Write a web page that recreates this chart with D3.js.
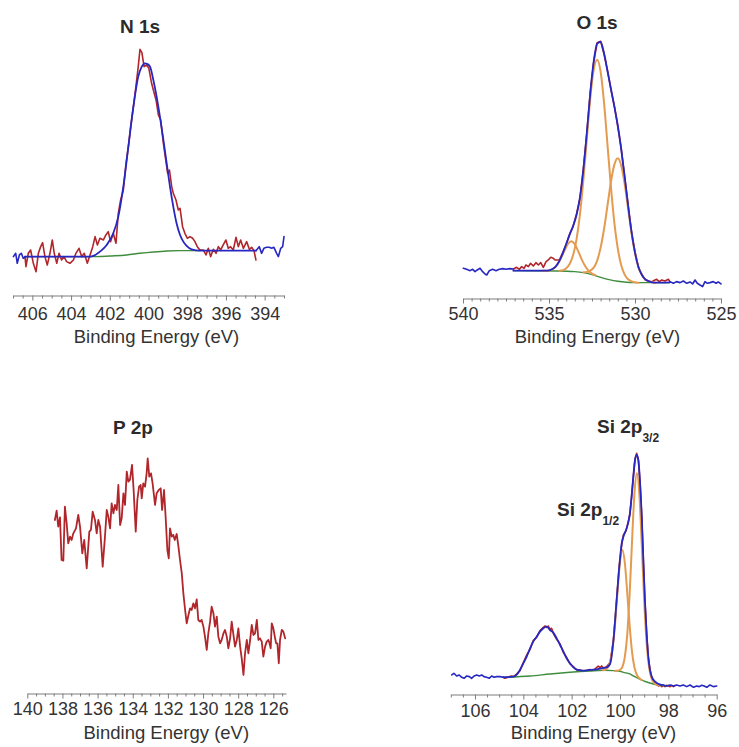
<!DOCTYPE html>
<html>
<head>
<meta charset="utf-8">
<script src="https://cdn.jsdelivr.net/npm/d3@7"></script>
<style>
  html, body { margin: 0; padding: 0; background: #fff; }
  svg { display: block; font-family: "Liberation Sans", Arial, Helvetica, sans-serif; }
</style>
</head>
<body>
<svg id="chart" width="739" height="747"></svg>
<script>
// ---------- XPS spectra: [binding energy (eV), intensity (a.u.)] ----------

// N 1s
const n1sEdgeLeft = [[406.98,80],[406.86,90],[406.78,60],[406.67,85],[406.57,90],[406.47,75],[406.38,78]];
const n1sRaw = [[406.38,80],[406.33,50],[406.21,90],[406.09,100],[405.95,60],[405.81,35],[405.69,90],[405.57,110],[405.47,122],[405.35,80],[405.23,55],[405.09,90],[404.97,130],[404.87,90],[404.74,60],[404.62,90],[404.49,70],[404.37,80],[404.23,65],[404.06,60],[403.88,70],[403.75,90],[403.59,105],[403.45,80],[403.32,90],[403.16,60],[403.02,85],[402.88,110],[402.76,140],[402.64,115],[402.51,135],[402.33,130],[402.20,145],[402.08,155],[401.96,125],[401.82,150],[401.68,120],[401.56,210],[401.44,250],[401.30,280],[401.16,360],[401.04,410],[400.92,470],[400.78,530],[400.65,590],[400.53,650],[400.44,702],[400.34,692],[400.23,650],[400.10,655],[399.98,645],[399.84,600],[399.75,580],[399.61,550],[399.49,505],[399.37,490],[399.23,420],[399.11,370],[399.01,330],[398.92,340],[398.80,290],[398.72,270],[398.58,250],[398.46,220],[398.37,225],[398.24,170],[398.12,150],[397.99,135],[397.86,140],[397.72,135],[397.60,125],[397.48,110],[397.34,100],[397.17,100],[397.03,85],[396.91,105],[396.79,80],[396.65,102],[396.51,90],[396.39,110],[396.27,100],[396.14,115],[396.00,130],[395.88,105],[395.76,110],[395.62,100],[395.48,138],[395.36,110],[395.24,130],[395.10,105],[394.93,125],[394.79,102],[394.67,108],[394.55,98],[394.45,70]];
const n1sEnvelope = [[406.38,80],[403.02,80],[402.85,82],[402.51,95],[402.16,115],[401.82,150],[401.56,200],[401.30,290],[401.04,410],[400.78,530],[400.53,620],[400.35,650],[400.18,660],[400.06,658],[399.92,650],[399.75,610],[399.58,560],[399.41,500],[399.23,430],[399.06,360],[398.89,290],[398.72,230],[398.55,180],[398.37,145],[398.20,125],[398.03,112],[397.77,102],[397.34,98],[394.45,98]];
const n1sEdgeRight = [[394.45,98],[394.28,110],[394.16,90],[394.04,105],[393.90,108],[393.76,108],[393.64,105],[393.52,108],[393.38,90],[393.29,80],[393.17,105],[393.07,110],[393.00,140]];
const n1sBackground = [[406.38,80],[402.68,80],[401.99,82],[401.13,85],[400.44,90],[399.75,94],[399.06,97],[398.37,98],[397.34,98]];

// O 1s
const o1sEdgeLeft = [[539.98,105],[539.79,102],[539.59,98],[539.44,102],[539.30,95],[539.17,100],[539.01,105],[538.86,95],[538.72,88],[538.62,85],[538.47,98],[538.28,102],[538.08,98],[537.89,102],[537.69,104],[537.50,102],[537.27,104],[537.07,103]];
const o1sRaw = [[537.07,103],[536.88,108],[536.72,102],[536.59,110],[536.45,105],[536.34,115],[536.20,110],[536.07,120],[535.91,112],[535.76,122],[535.62,115],[535.48,122],[535.33,108],[535.17,125],[535.04,130],[534.90,138],[534.75,135],[534.65,130],[534.4,130],[534.2,152],[534.0,176],[533.8,208],[533.6,230],[533.4,268],[533.2,315],[533.0,405],[532.8,510],[532.6,634],[532.4,724],[532.2,782],[532.0,786],[531.8,748],[531.6,699],[531.4,641],[531.2,592],[531.0,530],[530.8,464],[530.6,378],[530.4,295],[530.2,212],[530.0,154],[529.8,107],[529.6,87],[529.4,70],[529.2,67],[529.0,64],[528.93,68],[528.74,72],[528.59,65],[528.45,70],[528.26,67],[528.06,72],[527.97,65]];
const o1sEnvelope = [[537.07,98],[536.0,98],[535.4,98],[535.2,98],[535.0,99],[534.8,103],[534.6,111],[534.4,127],[534.2,150],[534.0,178],[533.8,206],[533.6,232],[533.4,265],[533.2,318],[533.0,402],[532.8,512],[532.6,631],[532.4,726],[532.2,779],[532.0,784],[531.8,750],[531.6,697],[531.4,644],[531.2,590],[531.0,533],[530.8,462],[530.6,380],[530.4,293],[530.2,214],[530.0,152],[529.8,109],[529.6,85],[529.4,72],[529.2,66],[529.0,63],[528.8,62],[528.4,62],[527.97,63]];
const o1sEdgeRight = [[527.97,65],[527.77,60],[527.58,65],[527.38,62],[527.19,67],[526.99,60],[526.80,64],[526.65,58],[526.51,70],[526.38,60],[526.22,55],[526.07,50],[525.93,65],[525.79,60],[525.64,62],[525.45,65],[525.29,60],[525.16,64],[525.00,58]];
const o1sBackground = [[537.07,98],[534.5,97],[533.5,95],[533.0,92],[532.5,86],[532.0,78],[531.5,71],[531.0,66],[530.5,63],[530.0,62],[528.9,62],[527.97,62]];
const o1sPeakA = [[534.4,98],[534.2,99],[534.0,105],[533.8,118],[533.6,144],[533.4,192],[533.2,267],[533.0,372],[532.8,494],[532.6,615],[532.4,701],[532.2,731],[532.0,695],[531.8,602],[531.6,476],[531.4,350],[531.2,242],[531.0,164],[530.8,114],[530.6,86],[530.4,72],[530.2,66],[530.0,63],[529.8,62]];
const o1sPeakB = [[533.0,93],[532.8,94],[532.6,98],[532.4,107],[532.2,128],[532.0,167],[531.8,223],[531.6,293],[531.4,364],[531.2,416],[531.0,435],[530.8,413],[530.6,358],[530.4,284],[530.2,211],[530.0,151],[529.8,109],[529.6,85],[529.4,72],[529.2,66],[529.0,63],[528.8,62]];
const o1sPeakC = [[535.4,98],[535.1,98],[534.9,100],[534.7,106],[534.5,118],[534.3,136],[534.1,158],[533.9,178],[533.7,186],[533.5,177],[533.3,156],[533.1,132],[532.9,112],[532.7,98],[532.5,89],[532.3,84]];

// P 2p
const p2pRaw = [[138.43,610],[138.33,638],[138.24,590],[138.14,618],[138.05,490],[137.95,488],[137.86,650],[137.76,600],[137.67,540],[137.57,560],[137.48,550],[137.38,570],[137.23,585],[137.10,625],[137.00,590],[136.87,510],[136.76,550],[136.62,465],[136.47,575],[136.38,580],[136.28,635],[136.15,610],[136.05,570],[135.96,610],[135.86,590],[135.71,470],[135.58,560],[135.48,640],[135.39,620],[135.29,585],[135.20,660],[135.10,630],[135.01,655],[134.91,640],[134.82,715],[134.72,595],[134.63,615],[134.53,690],[134.44,655],[134.34,755],[134.25,725],[134.16,730],[134.04,775],[133.95,700],[133.83,575],[133.74,670],[133.64,710],[133.55,715],[133.49,675],[133.40,720],[133.30,710],[133.21,750],[133.15,795],[133.06,740],[132.96,750],[132.87,720],[132.73,655],[132.64,690],[132.52,700],[132.41,705],[132.33,640],[132.22,700],[132.13,620],[132.03,520],[131.95,495],[131.88,585],[131.78,560],[131.69,565],[131.61,550],[131.50,568],[131.40,530],[131.31,490],[131.21,450],[131.12,390],[131.02,340],[130.93,300],[130.83,325],[130.74,345],[130.65,340],[130.55,360],[130.46,345],[130.36,372],[130.27,310],[130.17,305],[130.08,310],[129.98,290],[129.89,260],[129.79,220],[129.70,270],[129.60,305],[129.51,350],[129.41,330],[129.32,290],[129.22,320],[129.13,260],[129.03,240],[128.94,250],[128.84,270],[128.75,280],[128.65,260],[128.56,225],[128.46,255],[128.37,305],[128.27,265],[128.18,230],[128.08,250],[127.99,285],[127.89,230],[127.80,195],[127.70,145],[127.61,210],[127.51,250],[127.42,210],[127.32,250],[127.23,295],[127.13,265],[127.04,270],[126.94,310],[126.85,250],[126.76,255],[126.66,245],[126.57,200],[126.47,230],[126.38,245],[126.28,250],[126.22,240],[126.15,225],[126.09,300],[126.00,285],[125.90,255],[125.84,240],[125.77,240],[125.69,180],[125.62,250],[125.52,280],[125.43,275],[125.33,255]];

// Si 2p
const siEdgeLeft = [[106.96,115],[106.87,120],[106.76,112],[106.65,115],[106.55,108],[106.45,105],[106.34,112],[106.23,110],[106.14,105],[106.03,112],[105.93,115],[105.82,112],[105.72,115],[105.63,110],[105.52,108],[105.41,105],[105.31,112],[105.21,108],[105.10,110],[104.96,110],[104.83,108]];
const siRaw = [[104.83,108],[104.76,105],[104.62,108],[104.50,112],[104.40,110],[104.28,118],[104.14,128],[104.00,152],[103.86,175],[103.72,192],[103.59,218],[103.45,228],[103.31,248],[103.17,258],[103.10,262],[103.03,258],[102.97,262],[102.90,252],[102.83,255],[102.76,240],[102.62,222],[102.48,208],[102.34,182],[102.21,168],[102.07,148],[101.93,140],[101.79,130],[101.65,130],[101.52,127],[101.38,128],[101.24,131],[101.10,129],[100.96,138],[100.90,142],[100.83,137],[100.76,142],[100.69,136],[100.55,140],[100.41,152],[100.27,222],[100.14,338],[100.03,442],[99.93,505],[99.86,535],[99.75,548],[99.65,578],[99.59,598],[99.52,652],[99.45,708],[99.38,762],[99.31,780],[99.24,758],[99.17,692],[99.10,588],[99.03,452],[98.97,338],[98.90,244],[98.83,168],[98.76,132],[98.69,108],[98.62,98],[98.55,92],[98.48,86],[98.41,82],[98.34,85],[98.27,80],[98.21,84],[98.14,80],[98.07,84],[98.00,82],[97.93,80],[97.86,84],[97.79,80],[97.72,83]];
const siEnvelope = [[104.83,108],[104.41,110],[104.28,115],[104.14,130],[104.00,150],[103.86,170],[103.72,195],[103.59,215],[103.45,230],[103.31,245],[103.17,255],[103.03,260],[102.90,250],[102.76,242],[102.62,225],[102.48,205],[102.34,185],[102.21,165],[102.07,150],[101.93,138],[101.79,131],[101.65,129],[101.52,128],[101.38,129],[101.24,130],[101.10,131],[100.96,132],[100.83,134],[100.69,136],[100.55,138],[100.41,148],[100.27,220],[100.14,340],[100.03,440],[99.93,510],[99.86,530],[99.75,550],[99.65,575],[99.59,600],[99.52,650],[99.45,710],[99.38,760],[99.31,775],[99.24,760],[99.17,690],[99.10,590],[99.03,450],[98.97,340],[98.90,240],[98.83,170],[98.76,130],[98.69,110],[98.55,95],[98.34,86]];
const siEdgeRight = [[98.34,86],[98.21,85],[98.07,82],[97.93,85],[97.79,82],[97.66,85],[97.52,82],[97.38,85],[97.24,80],[97.10,85],[96.96,78],[96.83,82],[96.72,80],[96.62,84],[96.52,82],[96.41,78],[96.28,85],[96.14,80],[96.00,82]];
const siBackground = [[104.83,108],[103.72,112],[102.89,118],[102.07,123],[101.24,127],[100.69,129],[100.27,128],[100.00,126],[99.86,123],[99.59,118],[99.45,112],[99.17,102],[98.90,94],[98.62,88],[98.34,84],[98.07,82]];
const si2p32 = [[100.2,128],[100.1,128],[100.0,130],[99.9,139],[99.8,169],[99.7,237],[99.6,360],[99.5,520],[99.4,663],[99.3,720],[99.2,657],[99.1,506],[99.0,339],[98.9,211],[98.8,139],[98.7,105],[98.6,92],[98.5,87],[98.4,84.5]];
const si2p12 = [[100.7,129],[100.6,131],[100.5,138],[100.4,157],[100.3,198],[100.2,272],[100.1,368],[100.0,455],[99.9,490],[99.8,451],[99.7,361],[99.6,262],[99.5,183],[99.4,137],[99.3,115],[99.2,105],[99.1,100]];

// Axis tick labels (binding energy, eV)
const n1sTicks = [406, 404, 402, 400, 398, 396, 394];
const o1sTicks = [540, 535, 530, 525];
const p2pTicks = [140, 138, 136, 134, 132, 130, 128, 126];
const siTicks = [106, 104, 102, 100, 98, 96];

// ---------- drawing ----------
const COLORS = { raw: "#b0262b", fit: "#2727c2", bg: "#3f8c3f", comp: "#e49b4f", axis: "#7d7d7d", text: "#2b2b2b" };

const svg = d3.select("#chart");

const panels = [
  {
    xDomain: [407, 393], xRange: [13, 284], yRange: [283.3, 0],
    axisY: 295.5, labelY: 320, ticks: n1sTicks,
    axisTitle: [156.5, 342.5],
    titles: [{ x: 140, y: 33, text: "N 1s", anchor: "middle" }],
    layers: [
      { data: n1sBackground, color: COLORS.bg, width: 1.4, smooth: true },
      { data: n1sRaw, color: COLORS.raw, width: 1.6 },
      { data: n1sEdgeLeft, color: COLORS.fit, width: 1.6 },
      { data: n1sEnvelope, color: COLORS.fit, width: 1.8, smooth: true },
      { data: n1sEdgeRight, color: COLORS.fit, width: 1.6 }
    ]
  },
  {
    xDomain: [540, 525], xRange: [463, 721], yRange: [303.3, 20],
    axisY: 298.5, labelY: 320, ticks: o1sTicks,
    axisTitle: [597.5, 342.5],
    titles: [{ x: 597, y: 28.5, text: "O 1s", anchor: "middle" }],
    layers: [
      { data: o1sRaw, color: COLORS.raw, width: 1.6 },
      { data: o1sBackground, color: COLORS.bg, width: 1.4, smooth: true },
      { data: o1sPeakC, color: COLORS.comp, width: 2, smooth: true },
      { data: o1sPeakB, color: COLORS.comp, width: 2, smooth: true },
      { data: o1sPeakA, color: COLORS.comp, width: 2, smooth: true },
      { data: o1sEdgeLeft, color: COLORS.fit, width: 1.6 },
      { data: o1sEnvelope, color: COLORS.fit, width: 1.8, smooth: true },
      { data: o1sEdgeRight, color: COLORS.fit, width: 1.6 }
    ]
  },
  {
    xDomain: [140, 125.28], xRange: [27.3, 286], yRange: [723.3, 440],
    axisY: 693.5, labelY: 715, ticks: p2pTicks,
    axisTitle: [166.3, 738.5],
    titles: [{ x: 133, y: 434, text: "P 2p", anchor: "middle" }],
    layers: [
      { data: p2pRaw, color: COLORS.raw, width: 1.8 }
    ]
  },
  {
    xDomain: [107, 96], xRange: [450.8, 716.7], yRange: [713.3, 430],
    axisY: 694.5, labelY: 717, ticks: siTicks,
    axisTitle: [593.5, 739],
    titles: [
      { x: 597, y: 433, text: "Si 2p", sub: "3/2", anchor: "start" },
      { x: 557, y: 516, text: "Si 2p", sub: "1/2", anchor: "start" }
    ],
    layers: [
      { data: siRaw, color: COLORS.raw, width: 1.6 },
      { data: siBackground, color: COLORS.bg, width: 1.4, smooth: true },
      { data: si2p12, color: COLORS.comp, width: 2, smooth: true },
      { data: si2p32, color: COLORS.comp, width: 2, smooth: true },
      { data: siEdgeLeft, color: COLORS.fit, width: 1.6 },
      { data: siEnvelope, color: COLORS.fit, width: 1.8, smooth: true },
      { data: siEdgeRight, color: COLORS.fit, width: 1.6 }
    ]
  }
];

panels.forEach(p => {
  const x = d3.scaleLinear().domain(p.xDomain).range(p.xRange);
  const y = d3.scaleLinear().domain([0, 850]).range(p.yRange);
  const g = svg.append("g");

  // spectra
  p.layers.forEach(l => {
    const line = d3.line()
      .x(d => x(d[0]))
      .y(d => y(d[1]))
      .curve(l.smooth ? d3.curveMonotoneX : d3.curveLinear);
    g.append("path")
      .datum(l.data)
      .attr("fill", "none")
      .attr("stroke", l.color)
      .attr("stroke-width", l.width)
      .attr("stroke-linejoin", "round")
      .attr("stroke-linecap", "round")
      .attr("d", line);
  });

  // minor ticks every 0.5 eV
  const lo = Math.min(...p.xDomain), hi = Math.max(...p.xDomain);
  const minors = d3.range(Math.ceil(lo * 2), Math.floor(hi * 2) + 1)
    .map(v => v / 2)
    .filter(v => !p.ticks.includes(v));
  const minorAxis = svg.append("g")
    .attr("transform", `translate(0,${p.axisY})`)
    .call(d3.axisBottom(x).tickValues(minors).tickSize(3).tickSizeOuter(0).tickFormat(""));
  minorAxis.select(".domain").remove();
  minorAxis.selectAll("line").attr("stroke", COLORS.axis);

  // major ticks with labels
  const axis = svg.append("g")
    .attr("transform", `translate(0,${p.axisY})`)
    .call(d3.axisBottom(x).tickValues(p.ticks).tickSize(5).tickSizeOuter(0).tickFormat(d3.format("d")));
  axis.select(".domain").attr("stroke", COLORS.axis).attr("stroke-width", 1);
  axis.selectAll("line").attr("stroke", COLORS.axis);
  axis.selectAll("text")
    .attr("y", p.labelY - p.axisY)
    .attr("dy", 0)
    .attr("fill", "#333")
    .style("font-size", "18px")
    .style("font-family", '"Liberation Sans", Arial, sans-serif');

  svg.append("text")
    .attr("x", p.axisTitle[0]).attr("y", p.axisTitle[1])
    .attr("text-anchor", "middle")
    .attr("fill", "#333")
    .style("font-size", "18.5px")
    .text("Binding Energy (eV)");

  p.titles.forEach(t => {
    const txt = svg.append("text")
      .attr("x", t.x).attr("y", t.y)
      .attr("text-anchor", t.anchor)
      .attr("fill", COLORS.text)
      .style("font-size", "19px")
      .style("font-weight", "bold")
      .text(t.text);
    if (t.sub) {
      txt.append("tspan")
        .attr("dy", 9)
        .style("font-size", "12px")
        .text(t.sub);
    }
  });
});
</script>
</body>
</html>
